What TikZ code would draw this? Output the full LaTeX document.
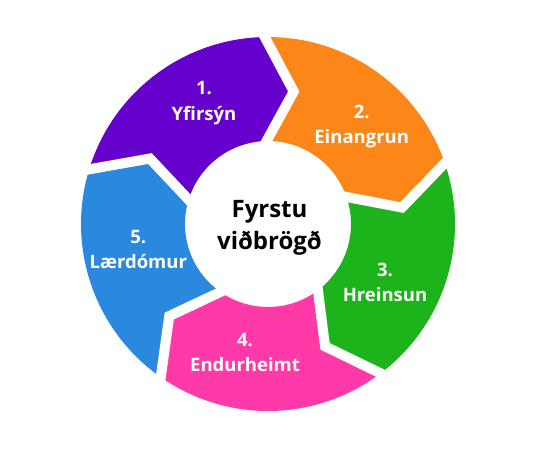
\documentclass[tikz,border=0pt]{standalone}
\usepackage{fontspec}
\setmainfont{Open Sans}
\usetikzlibrary{calc}
\definecolor{cpurple}{RGB}{102,0,204}
\definecolor{corange}{RGB}{253,134,24}
\definecolor{cgreen}{RGB}{29,179,26}
\definecolor{cpink}{RGB}{255,58,168}
\definecolor{cblue}{RGB}{42,136,223}
\tikzset{
  gapline/.style={draw=white, line width=10pt, line join=miter, miter limit=10},
  lbl/.style={text=white, font=\fontsize{18.5}{22}\selectfont\bfseries, anchor=base, inner sep=0pt},
  ctr/.style={text=black, font=\fontsize{24}{28}\selectfont\bfseries, anchor=base, inner sep=0pt}
}
\begin{document}
\begin{tikzpicture}[x=1pt,y=1pt]
\useasboundingbox (0,0) rectangle (539,450);
\begin{scope}[shift={(268,226)}]
  % segments: start boundary a, end boundary b (clockwise)
  \foreach \a/\b/\c in {163/91/cpurple, 91/19/corange, 19/-53/cgreen, -53/-125/cpink, 235/163/cblue}{
    \fill[\c] (\a:187) arc[start angle=\a, end angle=\b, radius=187]
      -- ({\b-12}:135) -- (\b:83)
      arc[start angle=\b, end angle=\a, radius=83]
      -- ({\a-12}:135) -- cycle;
  }
  % boundary points
  \foreach \k/\b in {1/91, 2/19, 3/-53, 4/-125, 5/163}{
    \coordinate (o\k) at (\b:187);
    \coordinate (t\k) at ({\b-12}:135);
    \coordinate (i\k) at (\b:83);
  }
  \foreach \k in {1,...,5}{
    \draw[gapline] ($(t\k)!1.3!(o\k)$) -- (t\k) -- ($(t\k)!1.4!(i\k)$);
  }
\end{scope}
% labels
\node[lbl] (n1a) at (204,355) {1.};
\node[lbl] (n1b) at (204,329.5) {Yfirsýn};
\node[lbl] (n2a) at (361.7,331.7) {2.};
\node[lbl] (n2b) at (361.7,306) {Einangrun};
\node[lbl] (n3a) at (385,173.3) {3.};
\node[lbl] (n3b) at (385,148.3) {Hreinsun};
\node[lbl] (n4a) at (245,103.3) {4.};
\node[lbl] (n4b) at (245,78.3) {Endurheimt};
\node[lbl] (n5a) at (138.3,206.7) {5.};
\node[lbl] (n5b) at (138.3,181.7) {Lærdómur};
\node[ctr] (c1) at (269.5,232.7) {Fyrstu};
\node[ctr] (c2) at (269.5,200.7) {viðbrögð};
\end{tikzpicture}
\end{document}
